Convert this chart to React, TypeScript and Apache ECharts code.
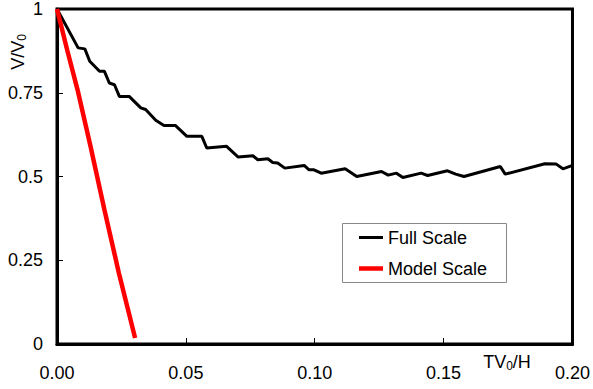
import React, { useEffect, useRef } from "react";
import * as echarts from "echarts";

const xTicks = [0, 0.05, 0.1, 0.15, 0.2];
const yTicks = [0, 0.25, 0.5, 0.75, 1];

const fullScale: [number, number][] = [
  [0, 1], [0.0082, 0.884], [0.0108, 0.881], [0.0127, 0.844], [0.0165, 0.814],
  [0.0184, 0.814], [0.0203, 0.779], [0.0223, 0.774], [0.0242, 0.739], [0.028, 0.739],
  [0.0325, 0.705], [0.0344, 0.7], [0.0383, 0.668], [0.0415, 0.652], [0.046, 0.652],
  [0.0504, 0.62], [0.0562, 0.62], [0.0581, 0.585], [0.0658, 0.59], [0.0703, 0.558],
  [0.076, 0.562], [0.0779, 0.55], [0.0818, 0.553], [0.0837, 0.542], [0.0856, 0.54],
  [0.0884, 0.525], [0.0959, 0.533], [0.0978, 0.52], [0.0997, 0.52], [0.1025, 0.51],
  [0.1118, 0.523], [0.1163, 0.5], [0.1259, 0.515], [0.1285, 0.504], [0.1317, 0.51],
  [0.1342, 0.497], [0.1413, 0.51], [0.1438, 0.503], [0.1515, 0.517], [0.1547, 0.507],
  [0.1579, 0.5], [0.172, 0.53], [0.1739, 0.507], [0.1893, 0.538], [0.1937, 0.537],
  [0.1963, 0.523], [0.2, 0.533],
];

const modelScale: [number, number][] = [
  [0, 1], [0.004, 0.876], [0.008, 0.758], [0.013, 0.59], [0.0184, 0.401],
  [0.024, 0.212], [0.0303, 0.018],
];

const seriesNames = ["Full Scale", "Model Scale"];
const seriesColors = ["#000000", "#ff0000"];
const seriesWidths = [3, 4.5];

export default function App() {
  const ref = useRef<HTMLDivElement>(null);
  useEffect(() => {
    if (!ref.current) return;
    const chart = echarts.init(ref.current, undefined, { renderer: "svg" });
    const font = "'Liberation Sans', Arial, sans-serif";
    const rich = {
      n: { fontSize: 18, fontFamily: font, fill: "#000" },
      s: { fontSize: 12, fontFamily: font, fill: "#000", padding: [8, 0, 0, 0] },
    };
    const legendItems: any[] = [];
    seriesNames.forEach((name, i) => {
      const cy = 237.5 + i * 31;
      legendItems.push({
        type: "line",
        shape: { x1: 359, y1: cy, x2: 383, y2: cy },
        style: { stroke: seriesColors[i], lineWidth: seriesWidths[i] },
      });
      legendItems.push({
        type: "text", x: 388, y: cy,
        style: { text: name, fontSize: 18, fontFamily: font, fill: "#000", align: "left", verticalAlign: "middle" },
      });
    });
    chart.setOption({
      animation: false,
      backgroundColor: "#ffffff",
      textStyle: { fontFamily: font },
      grid: {
        left: 57, right: 15, top: 9, bottom: 45,
        show: true, borderColor: "#000", borderWidth: 3,
      },
      xAxis: {
        type: "value", min: xTicks[0], max: xTicks[xTicks.length - 1], interval: 0.05,
        axisLine: { show: true, lineStyle: { color: "#000", width: 3 } },
        axisTick: { show: true, inside: true, length: 6, lineStyle: { color: "#000", width: 1 } },
        axisLabel: {
          color: "#000", fontSize: 18, margin: 20, fontFamily: font,
          formatter: (v: number) => v.toFixed(2),
        },
        splitLine: { show: false },
      },
      yAxis: {
        type: "value", min: yTicks[0], max: yTicks[yTicks.length - 1], interval: 0.25,
        axisLine: { show: true, lineStyle: { color: "#000", width: 3 } },
        axisTick: { show: true, inside: true, length: 6, lineStyle: { color: "#000", width: 1 } },
        axisLabel: { color: "#000", fontSize: 18, margin: 14, fontFamily: font },
        splitLine: { show: false },
      },
      graphic: [
        {
          type: "text", x: 18, y: 52, rotation: Math.PI / 2,
          style: { text: "{n|V/V}{s|0}", align: "center", verticalAlign: "middle", rich },
        },
        {
          type: "text", x: 507, y: 362,
          style: { text: "{n|TV}{s|0}{n|/H}", align: "center", verticalAlign: "middle", rich },
        },
        {
          type: "rect",
          shape: { x: 342.5, y: 223.5, width: 164, height: 59 },
          style: { fill: "#fff", stroke: "#888", lineWidth: 1 },
        },
        ...legendItems,
      ],
      series: [
        {
          name: seriesNames[0], type: "line", data: fullScale, symbol: "none",
          lineStyle: { color: seriesColors[0], width: seriesWidths[0] }, itemStyle: { color: seriesColors[0] },
        },
        {
          name: seriesNames[1], type: "line", data: modelScale, symbol: "none",
          lineStyle: { color: seriesColors[1], width: seriesWidths[1] }, itemStyle: { color: seriesColors[1] },
        },
      ],
    });
    return () => chart.dispose();
  }, []);
  return <div ref={ref} style={{ width: 593, height: 389, position: "absolute", left: 0, top: 0 }} />;
}
